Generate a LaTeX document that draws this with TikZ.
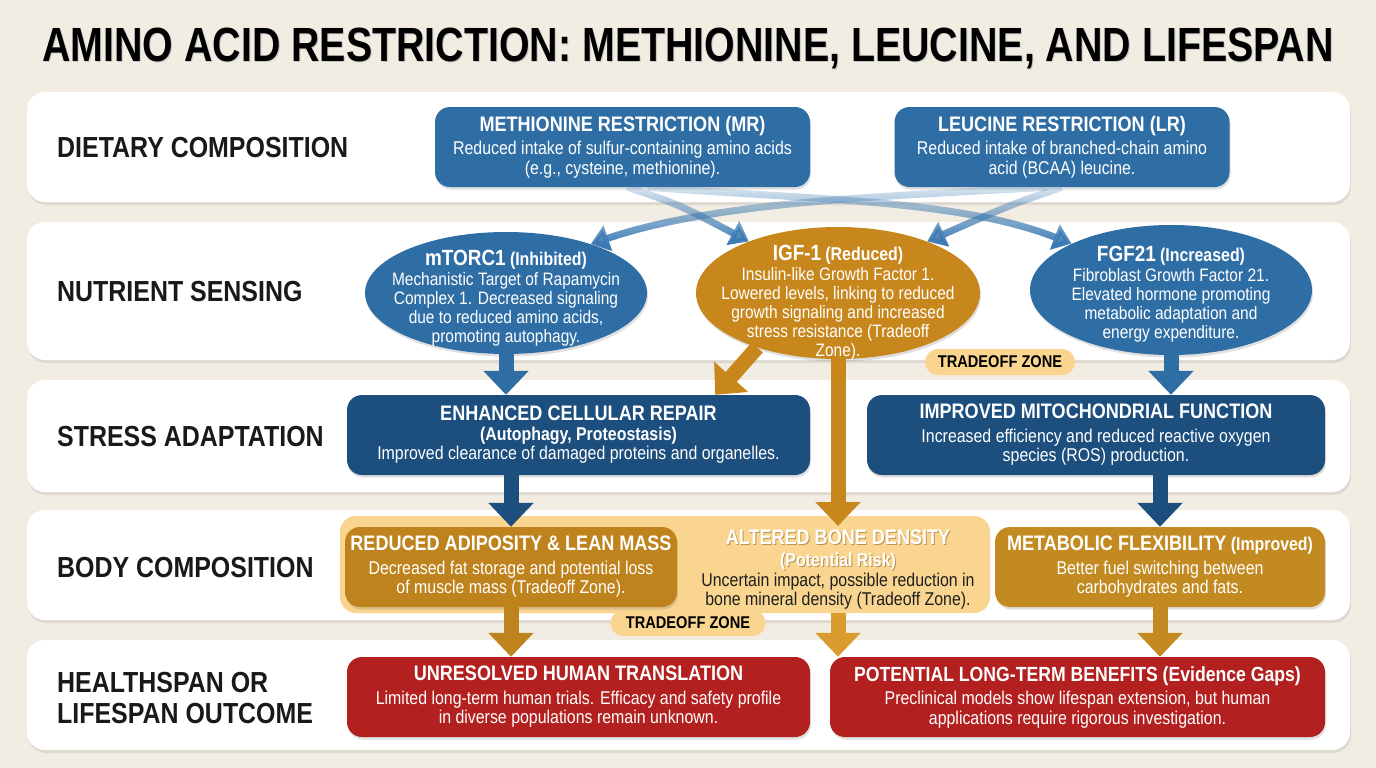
\documentclass[tikz,border=0pt]{standalone}
\usepackage{fontspec}
\setmainfont{Liberation Sans}[FakeStretch=0.86]
\newfontfamily\titlefont{Liberation Sans}[FakeStretch=0.82]
\usetikzlibrary{arrows.meta,shapes.geometric,shadows,fadings}
\definecolor{bgc}{HTML}{F2EDE2}
\definecolor{mblue}{HTML}{2F6EA5}
\definecolor{dblue}{HTML}{1C4E7E}
\definecolor{gold}{HTML}{C7871C}
\definecolor{gold2}{HTML}{BE831C}
\definecolor{gold3}{HTML}{DA9C2E}
\definecolor{metc}{HTML}{C38A22}
\definecolor{lgold}{HTML}{F9D590}
\definecolor{dred}{HTML}{B2201F}
\definecolor{xblue}{HTML}{3A79B2}
\tikzfading[name=fadetop, top color=transparent!85, bottom color=transparent!0]
\newcommand\boxtitle[1]{{\bfseries\fontsize{21}{23}\selectfont #1}}
\newcommand\subttl[1]{{\bfseries\fontsize{18.5}{21}\selectfont #1}}
\begin{document}
\begin{tikzpicture}[x=1pt,y=-1pt,
 panel/.style={fill=white, rounded corners=18pt, minimum width=1323, inner sep=0, drop shadow={opacity=0.18, shadow xshift=1pt, shadow yshift=-3pt}},
 rowlab/.style={anchor=west, font=\bfseries\fontsize{29}{31}\selectfont, text=black!90, align=left, inner sep=0},
 box/.style={rounded corners=15pt, minimum height=80, inner sep=0, text=white, align=center, font=\fontsize{18.5}{19.5}\selectfont, drop shadow={opacity=0.25, shadow xshift=1pt, shadow yshift=-2.5pt}},
 ell/.style={ellipse, inner sep=0, drop shadow={opacity=0.25, shadow xshift=1pt, shadow yshift=-2.5pt}},
 etxt/.style={text=white, align=center, font=\fontsize{18}{19}\selectfont, inner sep=0},
 pill/.style={fill=lgold, rounded corners=13pt, minimum height=26, inner sep=0, font=\bfseries\fontsize{17}{19}\selectfont, text=black},
 bigarrow/.style={line width=15pt, -{Triangle[width=44pt,length=24pt]}},
 xarrow/.style={draw=xblue, line width=7pt, -{Triangle[width=26pt,length=18pt]}, path fading=fadetop}
]
\fill[bgc] (0,0) rectangle (1376,768);
\useasboundingbox (0,0) rectangle (1376,768);

% title
\node[font=\titlefont\bfseries\fontsize{48}{52}\selectfont, text=black!22] (titlesh) at (689,49) {AMINO ACID RESTRICTION: METHIONINE, LEUCINE, AND LIFESPAN};
\node[font=\titlefont\bfseries\fontsize{48}{52}\selectfont, text=black] (title) at (688,48) {AMINO ACID RESTRICTION: METHIONINE, LEUCINE, AND LIFESPAN};

% panels
\node[panel, minimum height=110] (p1) at (688.5,147) {};
\node[panel, minimum height=138] (p2) at (688.5,291) {};
\node[panel, minimum height=112] (p3) at (688.5,436) {};
\node[panel, minimum height=110] (p4) at (688.5,565) {};
\node[panel, minimum height=110] (p5) at (688.5,695) {};

% row labels
\node[rowlab] (l1) at (57,148) {DIETARY COMPOSITION};
\node[rowlab] (l2) at (57,292) {NUTRIENT SENSING};
\node[rowlab] (l3) at (57,437) {STRESS ADAPTATION};
\node[rowlab] (l4) at (57,568) {BODY COMPOSITION};
\node[rowlab] (l5) at (57,698) {HEALTHSPAN OR\\LIFESPAN OUTCOME};

% row 1
\node[box, fill=mblue, minimum width=375] (mr) at (622.5,147) {\boxtitle{METHIONINE RESTRICTION (MR)}\\[4pt]Reduced intake of sulfur-containing amino acids\\(e.g., cysteine, methionine).};
\node[box, fill=mblue, minimum width=335] (lr) at (1062,147) {\boxtitle{LEUCINE RESTRICTION (LR)}\\[4pt]Reduced intake of branched-chain amino\\acid (BCAA) leucine.};

% row 2
\node[ell, fill=mblue, minimum width=282, minimum height=122] (mtor) at (506,293) {};
\node[etxt] (mtortxt) at (506,298) {{\bfseries\fontsize{22}{24}\selectfont mTORC1} \subttl{(Inhibited)}\\[1pt]Mechanistic Target of Rapamycin\\Complex 1. Decreased signaling\\due to reduced amino acids,\\promoting autophagy.};
\node[ell, fill=gold, minimum width=284, minimum height=132] (igf) at (838,293) {};
\node[etxt] (igftxt) at (838,303) {{\bfseries\fontsize{22}{24}\selectfont IGF-1} \subttl{(Reduced)}\\[1pt]Insulin-like Growth Factor 1.\\Lowered levels, linking to reduced\\growth signaling and increased\\stress resistance (Tradeoff\\Zone).};
\node[ell, fill=mblue, minimum width=282, minimum height=130] (fgf) at (1171,290) {};
\node[etxt] (fgftxt) at (1171,294) {{\bfseries\fontsize{22}{24}\selectfont FGF21} \subttl{(Increased)}\\[1pt]Fibroblast Growth Factor 21.\\Elevated hormone promoting\\metabolic adaptation and\\energy expenditure.};
\node[pill, minimum width=150] (pill1) at (1000,362) {TRADEOFF ZONE};

% row 3
\node[box, fill=dblue, minimum width=463] (enh) at (578.5,435) {\boxtitle{ENHANCED CELLULAR REPAIR}\\\subttl{(Autophagy, Proteostasis)}\\Improved clearance of damaged proteins and organelles.};
\node[box, fill=dblue, minimum width=458] (mito) at (1096,435) {\boxtitle{IMPROVED MITOCHONDRIAL FUNCTION}\\[4pt]Increased efficiency and reduced reactive oxygen\\species (ROS) production.};

% row 4
\node[fill=lgold, rounded corners=16pt, minimum width=650, minimum height=97, inner sep=0] (zone) at (665,564.5) {};
\node[pill, minimum width=155] (pill2) at (688,623) {TRADEOFF ZONE};
\node[box, fill=gold2, minimum width=332] (adip) at (511,567) {\boxtitle{REDUCED ADIPOSITY \& LEAN MASS}\\[4pt]Decreased fat storage and potential loss\\of muscle mass (Tradeoff Zone).};
\node[text=gold2!75!black, opacity=0.55, align=center, inner sep=0, font=\fontsize{18}{22}\selectfont] (bonetsh) at (839,551) {\boxtitle{ALTERED BONE DENSITY}\\\subttl{(Potential Risk)}};
\node[text=white, align=center, inner sep=0, font=\fontsize{18}{22}\selectfont] (bonet) at (838,550) {\boxtitle{ALTERED BONE DENSITY}\\\subttl{(Potential Risk)}};
\node[text=black!88, align=center, inner sep=0, font=\fontsize{18.5}{19.5}\selectfont] (boneb) at (838,591) {Uncertain impact, possible reduction in\\bone mineral density (Tradeoff Zone).};
\node[box, fill=metc, minimum width=330] (met) at (1160,567) {\boxtitle{METABOLIC FLEXIBILITY} \subttl{(Improved)}\\[4pt]Better fuel switching between\\carbohydrates and fats.};
\coordinate (bonein) at (838,526);
\coordinate (boneout) at (838,613);

% row 5
\node[box, fill=dred, minimum width=463] (unres) at (578.5,697) {\boxtitle{UNRESOLVED HUMAN TRANSLATION}\\[4pt]Limited long-term human trials. Efficacy and safety profile\\in diverse populations remain unknown.};
\node[box, fill=dred, minimum width=495] (pot) at (1077.5,697) {{\bfseries\fontsize{20.5}{23}\selectfont POTENTIAL LONG-TERM BENEFITS (Evidence Gaps)}\\[4pt]Preclinical models show lifespan extension, but human\\applications require rigorous investigation.};

% crossing arrows
\draw[xarrow] ([xshift=5pt]mr.south) .. controls (680,205) .. (igf.150);
\draw[xarrow] ([xshift=25pt]mr.south) .. controls (820,200) and (960,200) .. (fgf.155);
\draw[xarrow] ([xshift=-15pt]lr.south) .. controls (900,196) and (720,200) .. (mtor.30);
\draw[xarrow] (lr.south) .. controls (1010,205) .. (igf.30);

% vertical arrows
\draw[bigarrow, draw=mblue] (mtor.south) -- (mtor.south |- enh.north);
\draw[bigarrow, draw=gold] (igf.214) -- ([xshift=-95pt]enh.north east);
\draw[bigarrow, draw=gold] (igf.south) -- (bonein);
\draw[bigarrow, draw=mblue] (fgf.south) -- (fgf.south |- mito.north);
\draw[bigarrow, draw=dblue] (adip.north |- enh.south) -- (adip.north);
\draw[bigarrow, draw=dblue] (met.north |- mito.south) -- (met.north);
\draw[bigarrow, draw=gold2] (adip.south) -- (adip.south |- unres.north);
\draw[bigarrow, draw=gold3] (boneout) -- (boneout |- pot.north);
\draw[bigarrow, draw=metc] (met.south) -- (met.south |- pot.north);
\end{tikzpicture}
\end{document}
